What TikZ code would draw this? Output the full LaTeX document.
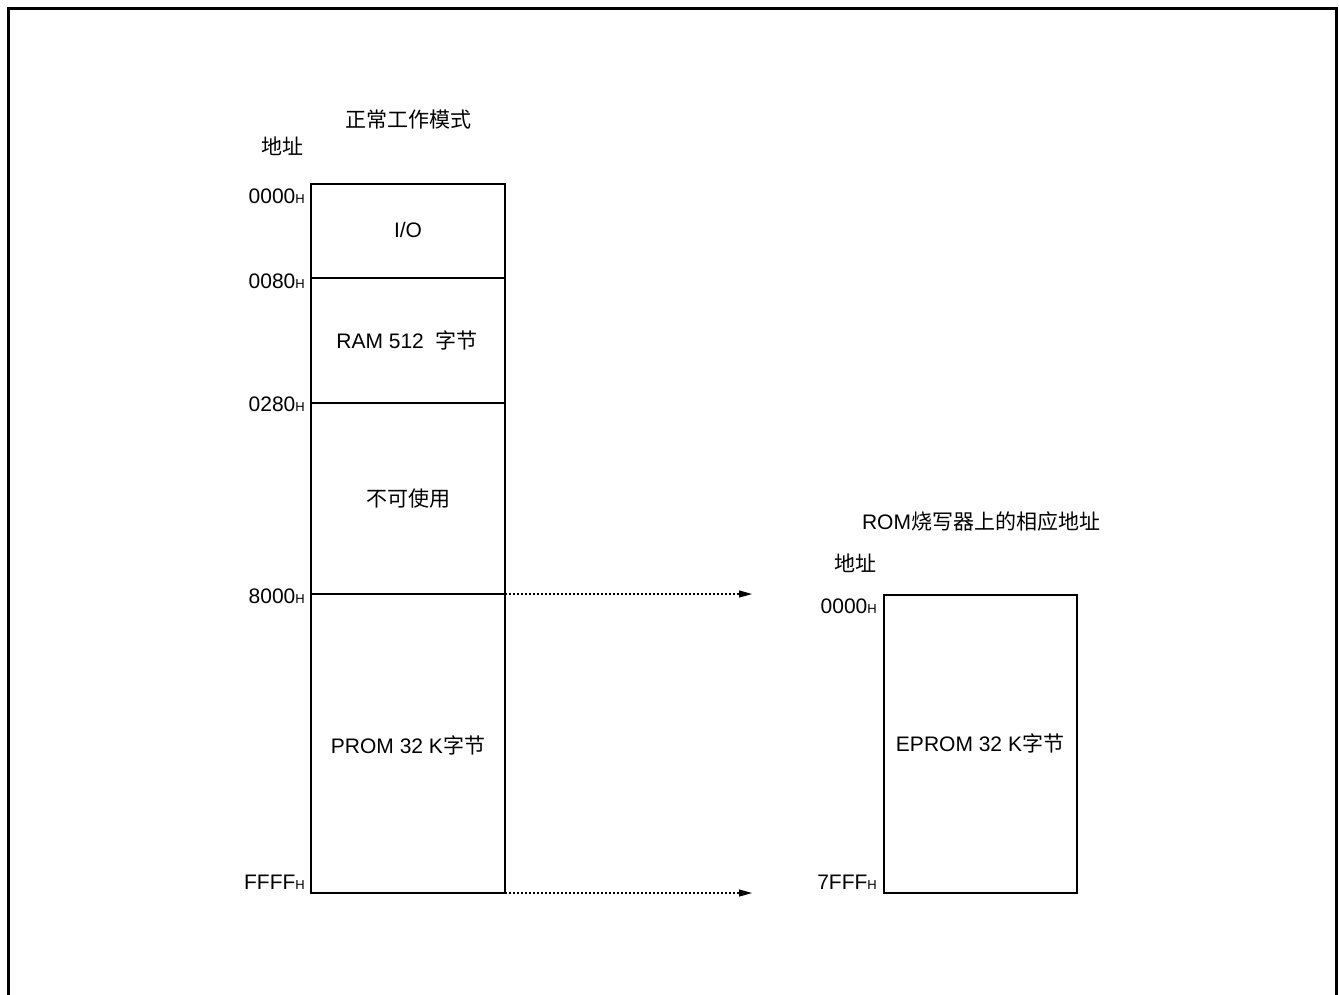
\documentclass[tikz,border=0pt]{standalone}
\usepackage{fontspec}
\setmainfont{Liberation Sans}
\newfontfamily\cjk{Noto Sans CJK SC}
\usetikzlibrary{arrows.meta}
\newcommand\addrH[1]{#1{\fontsize{13}{13}\selectfont H}}
\tikzset{
  frameline/.style={line width=3pt},
  membox/.style={draw, line width=2.6pt, outer sep=0pt, inner sep=0pt},
  divider/.style={line width=1.3pt},
  addr/.style={anchor=east, inner sep=0pt, font=\fontsize{21}{21}\selectfont},
  lbl/.style={inner sep=0pt, font=\fontsize{21}{21}\selectfont},
  maparrow/.style={line width=1.1pt, dash pattern=on 2pt off 2pt, -{Triangle[length=13pt,width=7pt]}}
}
\begin{document}
\begin{tikzpicture}[x=1pt,y=-1pt]
\useasboundingbox (0,0) rectangle (1339,994);
% outer frame (open at the bottom)
\draw[frameline] (8.5,1010) -- (8.5,8.5) -- (1336,8.5) -- (1336,1010);

% left memory map
\node[membox, minimum width=194pt, minimum height=709pt, anchor=north west] (lbox) at (311,184) {};
\coordinate (d1l) at (311,278); \coordinate (d1r) at (505,278);
\coordinate (d2l) at (311,403); \coordinate (d2r) at (505,403);
\coordinate (d3l) at (311,594); \coordinate (d3r) at (505,594);
\coordinate (d4r) at (505,893);
\draw[divider] (d1l) -- (d1r);
\draw[divider] (d2l) -- (d2r);
\draw[divider] (d3l) -- (d3r);

\node[lbl] (title1) at (408,120) {\cjk 正常工作模式};
\node[lbl] (addrhead1) at (282,146) {\cjk 地址};

\node[addr] (a0) at (305,196) {\addrH{0000}};
\node[addr] (a1) at (305,281) {\addrH{0080}};
\node[addr] (a2) at (305,404) {\addrH{0280}};
\node[addr] (a3) at (305,596) {\addrH{8000}};
\node[addr] (a4) at (305,882) {\addrH{FFFF}};

\node[lbl] (io) at (408,230) {I/O};
\node[lbl] (ram) at (407,340) {RAM 512\ \ {\cjk 字节}};
\node[lbl] (na) at (408,499) {\cjk 不可使用};
\node[lbl] (prom) at (408,745) {PROM 32 K{\cjk 字节}};

% right memory map
\node[membox, minimum width=193pt, minimum height=298pt, anchor=north west] (rbox) at (884,595) {};
\node[lbl] (title2) at (981,521) {ROM{\cjk 烧写器上的相应地址}};
\node[lbl] (addrhead2) at (855,563) {\cjk 地址};
\node[addr] (b0) at (877,606) {\addrH{0000}};
\node[addr] (b1) at (877,882) {\addrH{7FFF}};
\node[lbl] (eprom) at (980,743) {EPROM 32 K{\cjk 字节}};

% mapping arrows
\coordinate (t1) at (752,594);
\coordinate (t2) at (752,893);
\draw[maparrow] (d3r) -- (t1);
\draw[maparrow] (d4r) -- (t2);
\end{tikzpicture}
\end{document}
